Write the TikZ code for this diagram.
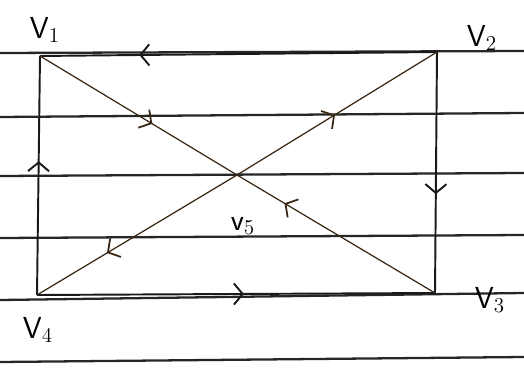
\documentclass[tikz,border=0pt]{standalone}
\usepackage{amsmath}
\usetikzlibrary{arrows.meta,decorations.markings}

\tikzset{
  ruled/.style={line width=1.3pt, black!85},
  sideline/.style={line width=1.1pt, black!90, postaction={decorate},
    decoration={markings, mark=at position #1 with {\arrow{Straight Barb[length=5pt,width=12pt]}}}},
  diagline/.style={line width=0.7pt, black!70!brown, postaction={decorate},
    decoration={markings, mark=at position #1 with {\arrow[line width=1pt]{Straight Barb[length=5pt,width=12pt]}}}},
  vlabel/.style={font=\sffamily\LARGE, inner sep=0pt}
}

\begin{document}
\begin{tikzpicture}[x=0.02cm, y=-0.02cm]
      \useasboundingbox (0,0) rectangle (524,371);

      % Ruled paper lines
      \foreach \yl/\yr in {53/51, 117/113, 176/173, 238/235, 300/293, 362/357}
          \draw[ruled] (0,\yl) -- (524,\yr);

      % Vertices
      \coordinate (V1) at (40,56);
      \coordinate (V2) at (437,52);
      \coordinate (V3) at (435,293);
      \coordinate (V4) at (37,295);
      \coordinate (V5) at (237,175);

      % Rectangle sides
      \draw[sideline=0.75] (V2) -- (V1);
      \draw[sideline=0.59] (V2) -- (V3);
      \draw[sideline=0.52] (V4) -- (V3);
      \draw[sideline=0.56] (V4) -- (V1);

      % Diagonals
      \draw[diagline=0.57] (V1) -- (V5);
      \draw[diagline=0.76] (V3) -- (V5);
      \draw[diagline=0.49] (V5) -- (V2);
      \draw[diagline=0.65] (V5) -- (V4);

      % Vertex labels
      \node[vlabel] (lV1) at (45,30) {V$_1$};
      \node[vlabel] (lV2) at (482,38) {V$_2$};
      \node[vlabel] (lV3) at (490,300) {V$_3$};
      \node[vlabel] (lV4) at (38,330) {V$_4$};
      \node[vlabel] (lV5) at (243,226) {v$_5$};

\end{tikzpicture}
\end{document}
